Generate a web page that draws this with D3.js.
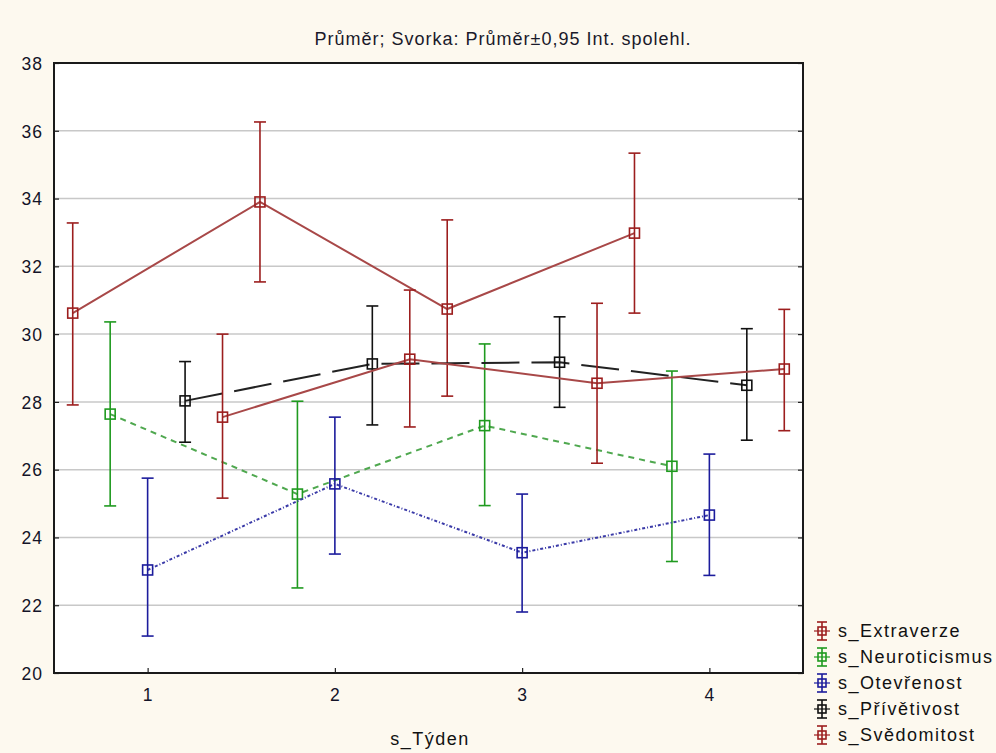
<!DOCTYPE html>
<html>
  <head>
    <meta charset="utf-8">
    <title>Průměr s_Týden</title>
    <script src="https://d3js.org/d3.v7.min.js"></script>
  </head>
  <style>
    body { margin: 0; background: #fdf9ef; }
    svg text { font-family: "Liberation Sans", Arial, sans-serif; }
  </style>
  <body>
    <svg id="chart" width="996" height="753"></svg>
    <script>
      // weeks on x axis
      var weeks = [1, 2, 3, 4];
      var yTicks = [20, 22, 24, 26, 28, 30, 32, 34, 36, 38];

      var names = ["s_Extraverze", "s_Neuroticismus", "s_Otevřenost", "s_Přívětivost", "s_Svědomitost"];
      var offsets = [-0.4, -0.2, 0, 0.2, 0.4];
      var colors = ["#9c1e1e", "#1f9a1f", "#1c1c9c", "#111111", "#9c1e1e"];
      var lineColors = ["#a84848", "#4fa84f", "#3a3aa8", "#222222", "#a84848"];
      var dashes = [null, "6,5", "3,2,1,2", "38,12", null];

      // means and 0.95 confidence limits per week
      var extraverzeMean = [30.62, 33.9, 30.74, 32.98];
      var extraverzeLow  = [27.91, 31.54, 28.17, 30.62];
      var extraverzeHigh = [33.28, 36.26, 33.37, 35.34];

      var neuroMean = [27.64, 25.28, 27.3, 26.1];
      var neuroLow  = [24.93, 22.51, 24.94, 23.29];
      var neuroHigh = [30.36, 28.02, 29.71, 28.91];

      var otevMean = [23.04, 25.58, 23.55, 24.66];
      var otevLow  = [21.09, 23.51, 21.8, 22.88];
      var otevHigh = [25.75, 27.55, 25.28, 26.46];

      var privMean = [28.03, 29.12, 29.17, 28.49];
      var privLow  = [26.81, 27.32, 27.84, 26.87];
      var privHigh = [29.19, 30.83, 30.51, 30.16];

      var svedMean = [27.55, 29.26, 28.55, 28.97];
      var svedLow  = [25.16, 27.26, 26.19, 27.15];
      var svedHigh = [30.0, 31.3, 30.91, 30.73];

      var means = [extraverzeMean, neuroMean, otevMean, privMean, svedMean];
      var lows = [extraverzeLow, neuroLow, otevLow, privLow, svedLow];
      var highs = [extraverzeHigh, neuroHigh, otevHigh, privHigh, svedHigh];

      var svg = d3.select("#chart");
      var pLeft = 54, pRight = 803, pTop = 63, pBottom = 673;

      var xScale = d3.scaleLinear().domain([0.5, 4.5]).range([pLeft, pRight]);
      var yScale = d3.scaleLinear().domain([20, 38]).range([pBottom, pTop]);

      svg.append("rect")
        .attr("x", pLeft).attr("y", pTop)
        .attr("width", pRight - pLeft).attr("height", pBottom - pTop)
        .attr("fill", "#ffffff");

      // grid
      svg.append("g").selectAll("line")
        .data(yTicks.slice(1, -1))
        .enter().append("line")
          .attr("x1", pLeft).attr("x2", pRight)
          .attr("y1", d => yScale(d)).attr("y2", d => yScale(d))
          .attr("stroke", "#c8c8c8")
          .attr("stroke-width", 1.5);

      var yAxis = d3.axisLeft(yScale).tickValues(yTicks).tickSize(-5).tickPadding(11);
      var yG = svg.append("g").attr("transform", "translate(" + pLeft + ",0)").call(yAxis);
      var yAxisR = d3.axisRight(yScale).tickValues(yTicks).tickSize(-5).tickFormat("");
      svg.append("g").attr("transform", "translate(" + pRight + ",0)").call(yAxisR);

      var xAxis = d3.axisBottom(xScale).tickValues(weeks).tickFormat(d3.format("d")).tickSize(-5).tickPadding(16);
      var xG = svg.append("g").attr("transform", "translate(0," + pBottom + ")").call(xAxis);

      svg.selectAll(".domain").remove();
      svg.selectAll(".tick line").attr("stroke", "#222").attr("stroke-width", 1.2);
      svg.selectAll(".tick text").attr("fill", "#141428")
        .style("font-size", "17.5px").style("letter-spacing", "1px");
      yG.selectAll(".tick text").attr("dy", "0.36em");

      svg.append("rect")
        .attr("x", pLeft).attr("y", pTop)
        .attr("width", pRight - pLeft).attr("height", pBottom - pTop)
        .attr("fill", "none")
        .attr("stroke", "#1a1a1a")
        .attr("stroke-width", 2);

      svg.append("text")
        .attr("x", 503).attr("y", 45)
        .attr("text-anchor", "middle")
        .style("font-size", "18px")
        .style("letter-spacing", "1px")
        .attr("fill", "#1a1a2a")
        .text("Průměr; Svorka: Průměr±0,95 Int. spolehl.");

      svg.append("text")
        .attr("x", 430).attr("y", 745)
        .attr("text-anchor", "middle")
        .style("font-size", "18px")
        .style("letter-spacing", "1.5px")
        .attr("fill", "#111")
        .text("s_Týden");

      var cap = 6, half = 5;

      names.forEach(function (name, s) {
        var pts = weeks.map(function (w, i) {
          return { x: xScale(w + offsets[s]), m: yScale(means[s][i]), lo: yScale(lows[s][i]), hi: yScale(highs[s][i]) };
        });
        var g = svg.append("g");

        var line = d3.line().x(d => d.x).y(d => d.m);
        g.append("path")
          .attr("d", line(pts))
          .attr("fill", "none")
          .attr("stroke", lineColors[s])
          .attr("stroke-width", 2)
          .attr("stroke-dasharray", dashes[s]);

        var bars = g.selectAll("g.bar").data(pts).enter().append("g");
        bars.append("line")
          .attr("x1", d => d.x).attr("x2", d => d.x)
          .attr("y1", d => d.hi).attr("y2", d => d.lo)
          .attr("stroke", colors[s]).attr("stroke-width", 1.6);
        bars.append("line")
          .attr("x1", d => d.x - cap).attr("x2", d => d.x + cap)
          .attr("y1", d => d.hi).attr("y2", d => d.hi)
          .attr("stroke", colors[s]).attr("stroke-width", 1.6);
        bars.append("line")
          .attr("x1", d => d.x - cap).attr("x2", d => d.x + cap)
          .attr("y1", d => d.lo).attr("y2", d => d.lo)
          .attr("stroke", colors[s]).attr("stroke-width", 1.6);
        bars.append("rect")
          .attr("x", d => d.x - half).attr("y", d => d.m - half)
          .attr("width", half * 2).attr("height", half * 2)
          .attr("fill", "none")
          .attr("stroke", colors[s]).attr("stroke-width", 1.6);

        // legend entry
        var ly = 631 + s * 26;
        var lx = 822;
        var lg = svg.append("g");
        lg.append("line").attr("x1", lx).attr("x2", lx).attr("y1", ly - 9).attr("y2", ly + 9)
          .attr("stroke", colors[s]).attr("stroke-width", 1.6);
        lg.append("line").attr("x1", lx - 5).attr("x2", lx + 5).attr("y1", ly - 9).attr("y2", ly - 9)
          .attr("stroke", colors[s]).attr("stroke-width", 1.6);
        lg.append("line").attr("x1", lx - 5).attr("x2", lx + 5).attr("y1", ly + 9).attr("y2", ly + 9)
          .attr("stroke", colors[s]).attr("stroke-width", 1.6);
        lg.append("line").attr("x1", lx - 8).attr("x2", lx + 8).attr("y1", ly).attr("y2", ly)
          .attr("stroke", colors[s]).attr("stroke-width", 1.2);
        lg.append("rect").attr("x", lx - 4).attr("y", ly - 4).attr("width", 8).attr("height", 8)
          .attr("fill", "none").attr("stroke", colors[s]).attr("stroke-width", 1.6);
        lg.append("text").attr("x", 838).attr("y", ly + 6)
          .style("font-size", "18px").style("letter-spacing", "1.5px").attr("fill", "#111")
          .text(name);
      });
    </script>
  </body>
</html>
